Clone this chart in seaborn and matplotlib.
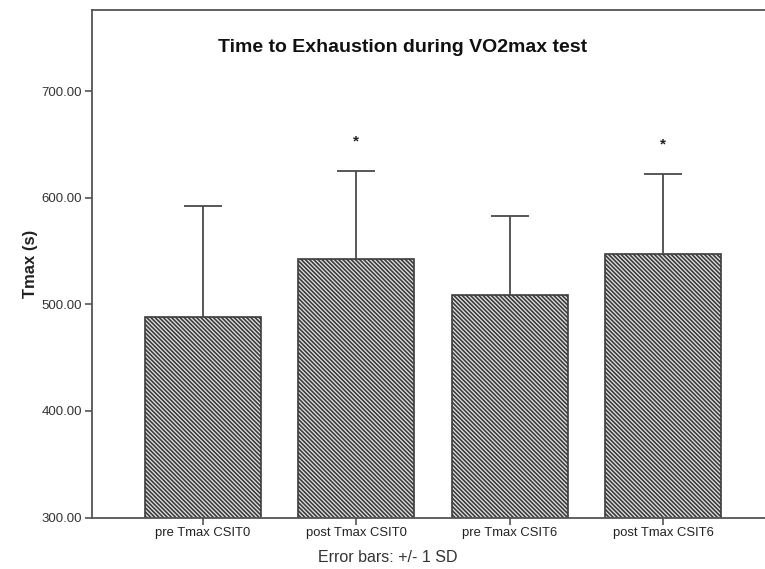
import matplotlib
matplotlib.use("Agg")
import matplotlib.pyplot as plt
import seaborn as sns
import numpy as np
import pandas as pd

categories = ["pre Tmax CSIT0", "post Tmax CSIT0", "pre Tmax CSIT6", "post Tmax CSIT6"]
means = [488.5, 542.0, 508.5, 547.5]
sds = [103.5, 83.0, 74.0, 74.5]
star_flags = [False, True, False, True]
yticks = [300, 400, 500, 600, 700]

sns.set_theme(style="white")
plt.rcParams["font.family"] = ["Liberation Sans", "DejaVu Sans"]
plt.rcParams["hatch.linewidth"] = 1.2

df = pd.DataFrame({"cat": categories, "mean": means})

fig = plt.figure(figsize=(7.65, 5.69), dpi=100)
ax = fig.add_axes([0.1199, 0.0905, 0.8801, 0.8919])

sns.barplot(data=df, x="cat", y="mean", order=categories, errorbar=None,
            color="#e4e4e4", edgecolor="#3c3c3c", linewidth=1.2,
            hatch="\\" * 8, width=0.756, ax=ax, zorder=2)

xs = np.arange(len(categories))
tops = np.array(means) + np.array(sds)
ax.vlines(xs, means, tops, color="#4a4a4a", linewidth=1.3, zorder=3)
ax.hlines(tops, xs - 0.123, xs + 0.123, color="#4a4a4a", linewidth=1.3, zorder=3)
for x, t, f in zip(xs, tops, star_flags):
    if f:
        ax.text(x, t + 28, "*", ha="center", va="center", fontsize=11,
                fontweight="bold", color="#222222")

ax.set_xlim(-0.723, 3.663)
ax.set_ylim(300, 776)
ax.set_yticks(yticks)
ax.set_yticklabels([f"{v:.2f}" for v in yticks], fontsize=9.5, color="#333333")
ax.set_xticks(xs)
ax.set_xticklabels(categories, fontsize=9.4, color="#222222")
ax.tick_params(axis="both", direction="out", length=5, width=1.2,
               color="#555555", bottom=True, left=True, pad=2)

for s in ["left", "bottom", "top"]:
    ax.spines[s].set_visible(True)
    ax.spines[s].set_color("#555555")
    ax.spines[s].set_linewidth(1.3)
ax.spines["right"].set_visible(False)

ax.set_xlabel("")
ax.set_ylabel("Tmax (s)", fontsize=12, fontweight="bold", color="#222222")
ax.yaxis.set_label_coords(-0.08, 0.5)

fig.text(403 / 765, 1 - 48 / 569, "Time to Exhaustion during VO2max test",
         ha="center", va="center", fontsize=14, fontweight="bold", color="#111111")
fig.text(387.5 / 765, 1 - 557.5 / 569, "Error bars: +/- 1 SD",
         ha="center", va="center", fontsize=11.5, color="#333333")

fig.savefig("out.png", dpi=100)
